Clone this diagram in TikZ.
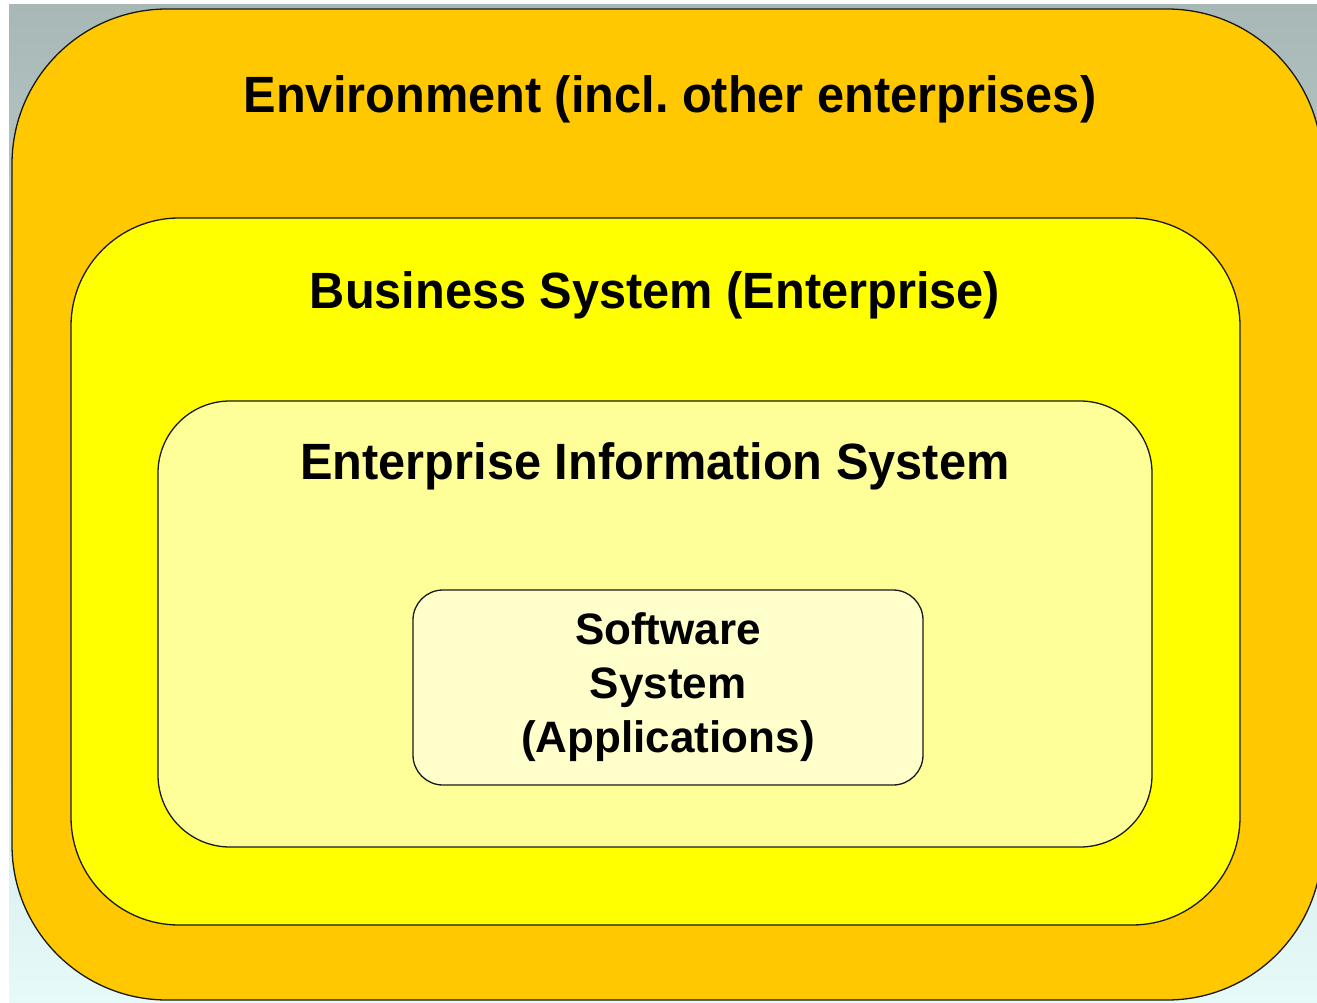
\documentclass[tikz,border=0pt]{standalone}
\usepackage{fontspec}
\setmainfont{Liberation Sans}
\newfontfamily\titlefont[FakeStretch=0.955]{Liberation Sans}
\definecolor{bgtop}{RGB}{168,184,182}
\definecolor{bgbot}{RGB}{230,250,250}
\definecolor{envc}{HTML}{FFC800}
\definecolor{busc}{HTML}{FFFF00}
\definecolor{eisc}{HTML}{FFFF99}
\definecolor{swc}{HTML}{FFFFCC}
\frenchspacing
\begin{document}
\begin{tikzpicture}[x=1pt,y=-1pt,
  layer/.style={draw=black!90, line width=1.3pt},
  title/.style={font=\titlefont\fontsize{51}{60}\selectfont\bfseries, anchor=base, inner sep=0pt},
  swbox/.style={draw=black!90, line width=1.3pt, rounded corners=30pt, fill=swc,
    minimum width=510pt, minimum height=195pt, align=center,
    font=\fontsize{44}{54}\selectfont\bfseries, inner sep=0pt}]
\useasboundingbox (0,0) rectangle (1317,1003);
\clip (0,0) rectangle (1317,1003);
\fill[white] (0,0) rectangle (1317,1003);
\shade[top color=bgtop, bottom color=bgbot] (9,5) rectangle (1317,1003);
% Environment
\draw[layer, fill=envc, rounded corners=155pt] (12,9) rectangle (1322,1000);
\node[title] (envt) at (670,113) {Environment (incl. other enterprises)};
% Business system
\draw[layer, fill=busc, rounded corners=108pt] (71,218) rectangle (1240,925);
\node[title] (bust) at (655,308) {Business System (Enterprise)};
% Enterprise information system
\draw[layer, fill=eisc, rounded corners=72pt] (158,401) rectangle (1152,847);
\node[title] (eist) at (655,479) {Enterprise Information System};
% Software system
\node[swbox] (sw) at (668,687.5) {Software\\System\\(Applications)};
\end{tikzpicture}
\end{document}
